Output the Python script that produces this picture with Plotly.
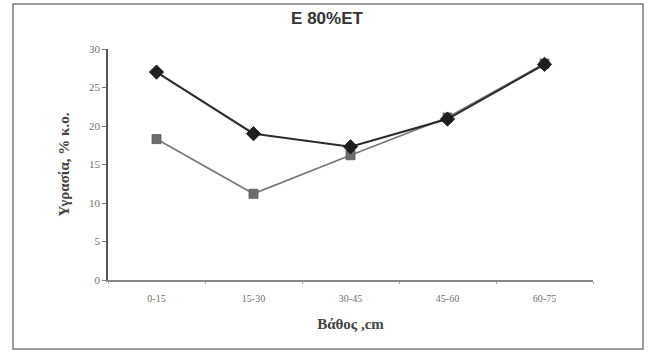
import plotly.graph_objects as go

categories = ["0-15", "15-30", "30-45", "45-60", "60-75"]
series_a = [27.0, 19.0, 17.3, 20.9, 28.0]   # black diamonds
series_b = [18.3, 11.2, 16.2, 21.1, 28.1]   # gray squares
y_ticks = [0, 5, 10, 15, 20, 25, 30]

W, H = 649, 354
L, R, T, B = 108, 593, 49, 280  # plot area in pixels

fig = go.Figure()
fig.add_trace(go.Scatter(
    x=categories, y=series_b, mode="lines+markers", name="B",
    line=dict(color="#7a7a7a", width=1.8),
    marker=dict(symbol="square", size=9, color="#6e6e6e",
                line=dict(color="#555555", width=0.8)),
    showlegend=False))
fig.add_trace(go.Scatter(
    x=categories, y=series_a, mode="lines+markers", name="A",
    line=dict(color="#2a2a2a", width=2),
    marker=dict(symbol="diamond", size=11, color="#1e1e1e",
                line=dict(color="#111111", width=0.8)),
    showlegend=False))

pw, ph = R - L, B - T
fig.add_shape(type="rect", xref="paper", yref="paper",
              x0=(13 - L) / pw, x1=(643 - L) / pw,
              y0=(B - 349) / ph, y1=(B - 4) / ph,
              line=dict(color="#7d7d7d", width=1.5), fillcolor="rgba(0,0,0,0)",
              layer="below")

fig.update_layout(
    width=W, height=H,
    margin=dict(l=L, r=W - R, t=T, b=H - B, pad=0),
    paper_bgcolor="white", plot_bgcolor="white",
    title=dict(text="<b>E 80%ET</b>", x=(327 - L) / pw, xref="paper", xanchor="center",
               y=1 - 18 / H, yanchor="middle",
               font=dict(family="Liberation Sans", size=17, color="#333333")),
    xaxis=dict(type="category", range=[-0.5, len(categories) - 0.5],
               tickson="boundaries", ticks="outside", ticklen=2,
               tickcolor="#aaaaaa", showline=True, linecolor="#888888", linewidth=1.5,
               showgrid=False, zeroline=False, ticklabelstandoff=8,
               tickfont=dict(family="Liberation Serif", size=10, color="#6f6f6f"),
               title=dict(text="<b>Βάθος ,cm</b>", standoff=16,
                          font=dict(family="Liberation Serif", size=15, color="#444444"))),
    yaxis=dict(range=[0, 30], tickvals=y_ticks, ticks="outside", ticklen=4,
               tickcolor="#777777", showline=True, linecolor="#555555", linewidth=1.5,
               showgrid=False, zeroline=False,
               tickfont=dict(family="Liberation Serif", size=11, color="#6f6f6f"),
               title=dict(text="<b>Υγρασία, % κ.ο.</b>", standoff=16,
                          font=dict(family="Liberation Serif", size=15, color="#444444"))),
)

fig.write_html("out.html", config={"displayModeBar": False},
               post_script="document.body.style.margin='0';")
